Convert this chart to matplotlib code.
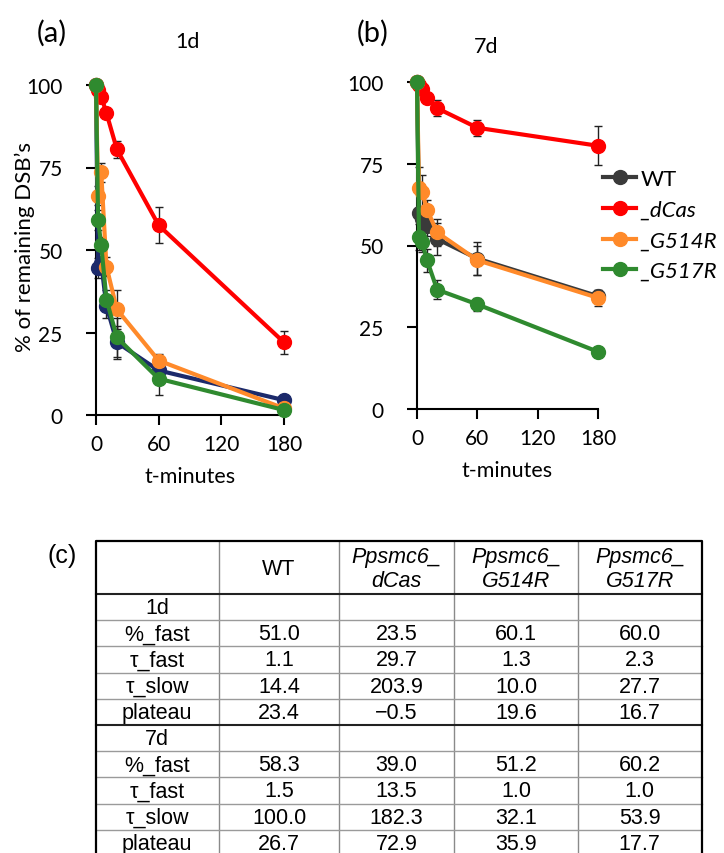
import numpy as np
import matplotlib.pyplot as plt

plt.rcParams['font.family'] = ['Lato', 'DejaVu Sans']

# time points (minutes)
times = [0, 2, 5, 10, 20, 60, 180]
legend_labels = ['WT', '_dCas', '_G514R', '_G517R']

# 1d data (% remaining DSB's) and error bars
d1_wt = [100, 44.5, 46, 33, 22, 13.5, 4.5]
d1_dcas = [100, 98.5, 96.5, 91.5, 80.5, 57.5, 22]
d1_g514r = [100, 66.5, 73.5, 45, 32, 16.5, 2]
d1_g517r = [100, 59, 51.5, 35, 23.5, 11, 1.5]
d1_wt_err = [0, 3, 3, 3.5, 5, 2, 1]
d1_dcas_err = [0, 1, 1, 1.5, 2.5, 5.5, 3.5]
d1_g514r_err = [0, 3, 3, 3, 6, 2, 1]
d1_g517r_err = [0, 3, 2.5, 3, 6, 5, 1]

# 7d data
d7_wt = [100, 60, 58, 56, 52, 46, 34.5]
d7_dcas = [100, 99, 98, 95, 92, 86, 80.5]
d7_g514r = [100, 67.5, 66.5, 61, 54, 45.5, 34]
d7_g517r = [100, 52.5, 51, 45.5, 36.5, 32, 17.5]
d7_wt_err = [0, 6, 4, 3, 5, 5, 2]
d7_dcas_err = [0, 1, 1, 1.5, 2.5, 2.5, 6]
d7_g514r_err = [0, 6.5, 5, 3, 4, 4.5, 2.5]
d7_g517r_err = [0, 4, 3, 3.5, 3, 2, 1.5]

# table (c)
row_labels = ['1d', '%_fast', 'τ_fast', 'τ_slow', 'plateau',
              '7d', '%_fast', 'τ_fast', 'τ_slow', 'plateau']
col_headers = ['WT', 'Ppsmc6_\ndCas', 'Ppsmc6_\nG514R', 'Ppsmc6_\nG517R']
tbl_wt = [51.0, 1.1, 14.4, 23.4, 58.3, 1.5, 100.0, 26.7]
tbl_dcas = [23.5, 29.7, 203.9, -0.5, 39.0, 13.5, 182.3, 72.9]
tbl_g514r = [60.1, 1.3, 10.0, 19.6, 51.2, 1.0, 32.1, 35.9]
tbl_g517r = [60.0, 2.3, 27.7, 16.7, 60.2, 1.0, 53.9, 17.7]

W, H = 724, 854
fig = plt.figure(figsize=(W / 100, H / 100), dpi=100)


def px_axes(x0, x1, y_top, y_bot):
    return fig.add_axes([x0 / W, 1 - y_bot / H, (x1 - x0) / W, (y_bot - y_top) / H])


def draw_panel(ax, series, errs, colors):
    lines = []
    for y, e, c in zip(series, errs, colors):
        ax.errorbar(times, y, yerr=e, fmt='none', ecolor='#222222', elinewidth=1,
                    capsize=3, capthick=1, zorder=2, clip_on=False)
        ln, = ax.plot(times, y, '-o', color=c, lw=3, ms=10, zorder=3, clip_on=False)
        lines.append(ln)
    ax.set_xlim(0, 180)
    ax.set_ylim(0, 100)
    ax.set_xticks([0, 60, 120, 180])
    ax.set_yticks([0, 25, 50, 75, 100])
    for s in ['top', 'right']:
        ax.spines[s].set_visible(False)
    for s in ['left', 'bottom']:
        ax.spines[s].set_linewidth(1.5)
    ax.tick_params(axis='y', length=7, width=1.5, pad=17, labelsize=15)
    ax.tick_params(axis='x', length=7, width=1.5, pad=7, labelsize=15)
    ax.set_xlabel('t-minutes', fontsize=15.5, labelpad=8)
    return lines


ax_a = px_axes(96, 284, 86, 416)
draw_panel(ax_a, [d1_wt, d1_dcas, d1_g514r, d1_g517r],
           [d1_wt_err, d1_dcas_err, d1_g514r_err, d1_g517r_err],
           ['#1c2a6b', '#ff0000', '#ff8a2a', '#2f8a2f'])

ax_b = px_axes(417, 598, 83, 410)
lines_b = draw_panel(ax_b, [d7_wt, d7_dcas, d7_g514r, d7_g517r],
                     [d7_wt_err, d7_dcas_err, d7_g514r_err, d7_g517r_err],
                     ['#3a3a3a', '#ff0000', '#ff8a2a', '#2f8a2f'])

leg = ax_b.legend(lines_b, legend_labels, loc='upper left',
                  bbox_to_anchor=(603 / W, 1 - 170 / H), bbox_transform=fig.transFigure,
                  frameon=False, fontsize=16, handlelength=1.5, handletextpad=0.2,
                  labelspacing=0.48, borderpad=0, borderaxespad=0)
for t in leg.get_texts()[1:]:
    t.set_style('italic')

fig.text(187 / W, 1 - 42 / H, '1d', fontsize=15.5, ha='center', va='center')
fig.text(486 / W, 1 - 47 / H, '7d', fontsize=15.5, ha='center', va='center')
fig.text(52 / W, 1 - 33 / H, '(a)', fontsize=21, ha='center', va='center')
fig.text(373 / W, 1 - 33 / H, '(b)', fontsize=21, ha='center', va='center')
fig.text(62 / W, 1 - 556 / H, '(c)', fontsize=18, ha='center', va='center',
         family=['Liberation Sans', 'DejaVu Sans'])
fig.text(25 / W, 1 - 247 / H, '% of remaining DSB\u2019s', fontsize=16,
         rotation=90, ha='center', va='center')

# table
col_w = [123.5, 120, 115, 124, 123.5]
head_h, row_h = 53.3, 26.2
tw = sum(col_w)
th = head_h + row_h * len(row_labels)
ax_t = px_axes(95.5, 95.5 + tw, 541.7, 541.7 + th)
ax_t.set_xlim(0, tw)
ax_t.set_ylim(th, 0)
ax_t.axis('off')

xe = np.concatenate([[0], np.cumsum(col_w)])
ye = np.concatenate([[0], head_h + row_h * np.arange(len(row_labels) + 1)])

for x in xe[1:-1]:
    ax_t.plot([x, x], [0, th], color='#8a8a8a', lw=1, clip_on=False)
for i, y in enumerate(ye[1:-1]):
    dark = i in (0, 5)
    ax_t.plot([0, tw], [y, y], color='#222222' if dark else '#9a9a9a',
              lw=1.5 if dark else 1, clip_on=False)
ax_t.plot([0, 0, tw, tw], [th, 0, 0, th], color='black', lw=1.6, clip_on=False)

tfont = ['Liberation Sans', 'DejaVu Sans']
fs_t = 15.5
for j, h in enumerate(col_headers):
    ax_t.text((xe[j + 1] + xe[j + 2]) / 2, head_h / 2 + 1, h, ha='center', va='center',
              fontsize=fs_t, family=tfont, style='normal' if j == 0 else 'italic',
              linespacing=1.2)

columns = [tbl_wt, tbl_dcas, tbl_g514r, tbl_g517r]
for i, lab in enumerate(row_labels):
    yc = (ye[i + 1] + ye[i + 2]) / 2 + 0.5
    ax_t.text(xe[1] / 2, yc, lab, ha='center', va='center', fontsize=fs_t, family=tfont)
    if i in (0, 5):
        continue
    k = i - 1 if i < 5 else i - 2
    for j, col in enumerate(columns):
        s = f'{col[k]:.1f}'.replace('-', '\u2212')
        ax_t.text((xe[j + 1] + xe[j + 2]) / 2, yc, s, ha='center', va='center',
                  fontsize=fs_t, family=tfont)

fig.savefig('out.png', dpi=100)
